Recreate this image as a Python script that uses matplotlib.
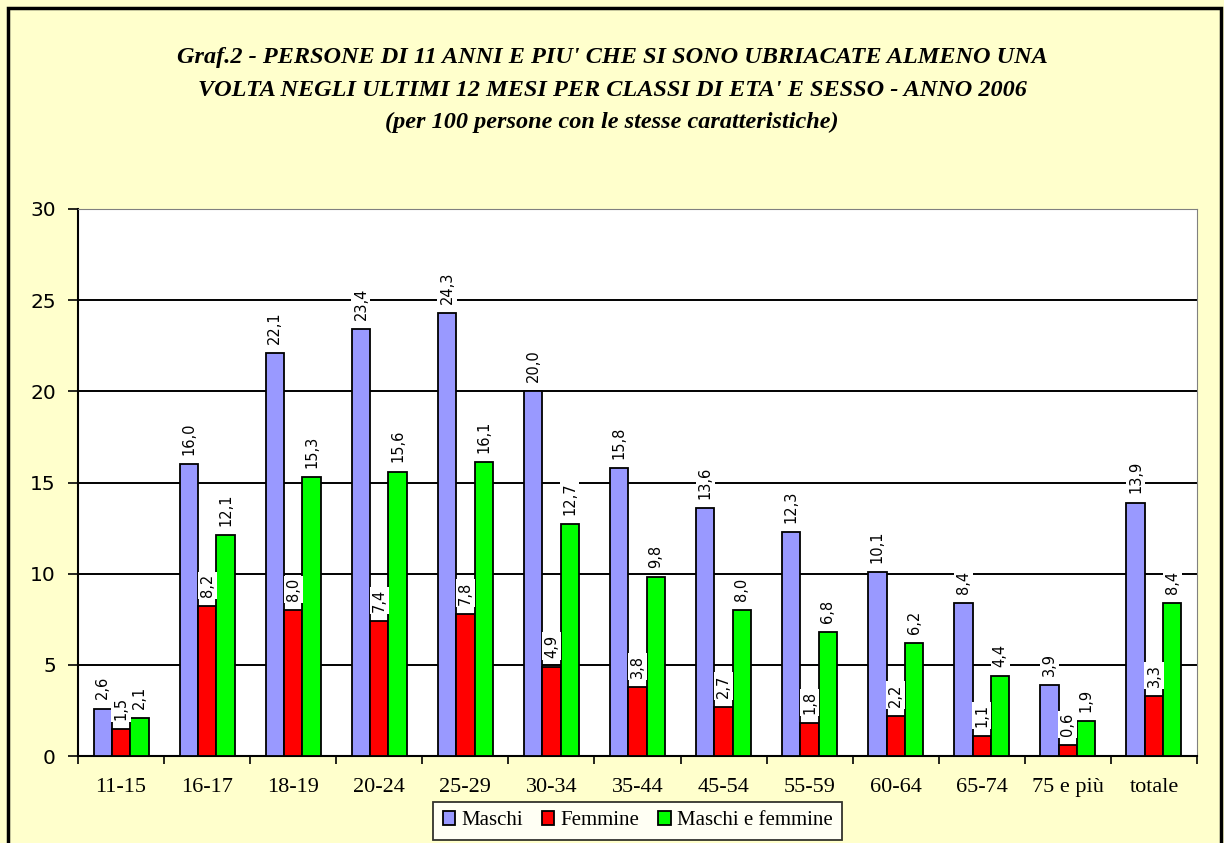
import matplotlib.pyplot as plt
import numpy as np
from matplotlib.patches import Rectangle

categories = ["11-15", "16-17", "18-19", "20-24", "25-29", "30-34", "35-44",
              "45-54", "55-59", "60-64", "65-74", "75 e più", "totale"]
maschi = [2.6, 16.0, 22.1, 23.4, 24.3, 20.0, 15.8, 13.6, 12.3, 10.1, 8.4, 3.9, 13.9]
femmine = [1.5, 8.2, 8.0, 7.4, 7.8, 4.9, 3.8, 2.7, 1.8, 2.2, 1.1, 0.6, 3.3]
totale = [2.1, 12.1, 15.3, 15.6, 16.1, 12.7, 9.8, 8.0, 6.8, 6.2, 4.4, 1.9, 8.4]
series_names = ["Maschi", "Femmine", "Maschi e femmine"]
colors = ["#9999FF", "#FF0000", "#00FF00"]

BG = "#FFFFCC"
fig = plt.figure(figsize=(12.24, 8.43), dpi=100, facecolor=BG)
# outer frame
fig.patches.append(Rectangle((8 / 1224, -0.01), 1213 / 1224, 1 - 8 / 843 + 0.01,
                             transform=fig.transFigure, fill=False,
                             edgecolor="black", linewidth=2.5))

ax = fig.add_axes([78 / 1224, 1 - 756 / 843, (1197 - 78) / 1224, (756 - 209) / 843])
ax.set_facecolor("white")

x = np.arange(len(categories))
w = 0.213
for i, (vals, name, c) in enumerate(zip([maschi, femmine, totale], series_names, colors)):
    pos = x + (i - 1) * w
    ax.bar(pos, vals, width=w, color=c, edgecolor="black", linewidth=1.3,
           label=name, zorder=3)
    for px, v in zip(pos, vals):
        ax.text(px, v + 0.5, f"{v:.1f}".replace(".", ","), rotation=90,
                ha="center", va="bottom", fontsize=10.5, family="DejaVu Sans",
                zorder=4,
                bbox=dict(facecolor="white", edgecolor="none", pad=1.5))

ax.set_xlim(-0.5, len(categories) - 0.5)
ax.set_ylim(0, 30)
ax.set_yticks(range(0, 31, 5))
ax.yaxis.grid(True, color="black", linewidth=1.4, zorder=0)
ax.set_axisbelow(True)
ax.set_xticks(x)
ax.set_xticklabels(categories, family="Liberation Serif", fontsize=16)
ax.set_xticks(np.arange(-0.5, len(categories)), minor=True)
ax.tick_params(axis="x", which="major", length=0, pad=16)
ax.tick_params(axis="x", which="minor", length=6, width=1.2, direction="out")
ax.tick_params(axis="y", length=7, width=1.2, labelsize=14.5, pad=9)
for lab in ax.get_yticklabels():
    lab.set_family("DejaVu Sans")
for s in ["left", "bottom"]:
    ax.spines[s].set_linewidth(1.5)
for s in ["top", "right"]:
    ax.spines[s].set_color("#808080")

leg = ax.legend(loc="upper center", bbox_to_anchor=(0.5, -0.085), ncol=3,
                frameon=True, fancybox=False, edgecolor="black",
                prop=dict(family="Liberation Serif", size=15),
                handlelength=0.6, handleheight=0.6, handletextpad=0.3,
                columnspacing=0.9, borderpad=0.45)
leg.set_bbox_to_anchor((0.5, -0.065), transform=ax.transAxes)
leg.get_frame().set_linewidth(1.3)

title = ("Graf.2 - PERSONE DI 11 ANNI E PIU' CHE SI SONO UBRIACATE ALMENO UNA\n"
         "VOLTA NEGLI ULTIMI 12 MESI PER CLASSI DI ETA' E SESSO - ANNO 2006\n"
         "(per 100 persone con le stesse caratteristiche)")
fig.text(0.5, 1 - 47 / 843, title, ha="center", va="top", family="Liberation Serif",
         style="italic", weight="bold", fontsize=17.5, linespacing=1.72)

fig.savefig("out.png", dpi=100, facecolor=BG)
